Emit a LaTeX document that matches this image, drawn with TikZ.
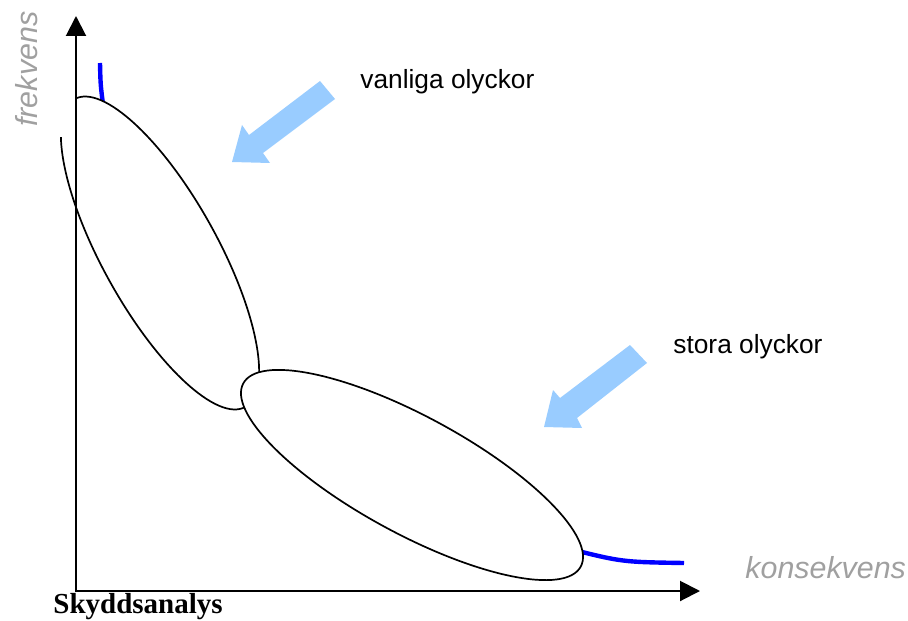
\documentclass[tikz,border=0pt]{standalone}
\usepackage{fontspec}
\setmainfont{Liberation Sans}
\newfontfamily\serifbold{Liberation Serif}
\usetikzlibrary{arrows.meta}
\definecolor{arrowblue}{RGB}{153,204,255}
\definecolor{axisgray}{RGB}{160,160,160}
\definecolor{trendblue}{RGB}{0,0,255}

\begin{document}
\begin{tikzpicture}[x=0.5pt,y=-0.5pt,
  axis/.style={line width=1pt, line join=miter,
    {Triangle[length=10pt,width=10pt]}-{Triangle[length=10pt,width=10pt]}},
  region/.style={draw=black, line width=0.85pt, fill=white},
  trend/.style={draw=trendblue, line width=2.2pt},
  pointer/.style={fill=arrowblue, draw=none},
  label/.style={inner sep=0pt, anchor=base west, font=\fontsize{13.15pt}{15pt}\selectfont},
  axislabel/.style={inner sep=0pt, anchor=base west, text=axisgray,
    font=\fontsize{15.2pt}{18pt}\selectfont\itshape}]
\useasboundingbox (0,0) rectangle (908,620);

% frequency/consequence trend curve (visible ends only)
\draw[trend] (100,63) .. controls (100.5,85) .. (103.5,108);
\draw[trend] (570,549) .. controls (622,562) .. (684,563);

% region of common accidents
\draw[region, rotate around={-61:(160,253)}] (160,253) ellipse [x radius=88pt, y radius=28.85pt];
% white patch behind the vertical axis label
\fill[white] (0,0) rectangle (75.5,137);
% region of major accidents
\draw[region, rotate around={-28.5:(412,475)}] (412,475) ellipse [x radius=96pt, y radius=29.3pt];

% axes
\coordinate (ytip) at (76,16);
\coordinate (origin) at (76,591);
\coordinate (xtip) at (700,591);
\draw[axis] (ytip) -- (origin) -- (xtip);

% pointing arrows
\fill[pointer] (232,162) -- (242,125) -- (249,135) -- (320,81) -- (335,99)
  -- (263,153) -- (270,163) -- cycle;
\fill[pointer] (544,427) -- (553,390) -- (560,398) -- (630,345) -- (647,363)
  -- (577,418) -- (582,428) -- cycle;

% labels
\node[label] (common) at (360,89) {vanliga olyckor};
\node[label] (major) at (673,353) {stora olyckor};
\node[axislabel] (xlab) at (745,578) {konsekvens};
\node[axislabel, rotate=90] (ylab) at (37,127) {frekvens};
\node[inner sep=0pt, anchor=base west, font=\serifbold\bfseries\fontsize{14.5pt}{17pt}\selectfont]
  (title) at (53,613) {Skyddsanalys};
\end{tikzpicture}
\end{document}
